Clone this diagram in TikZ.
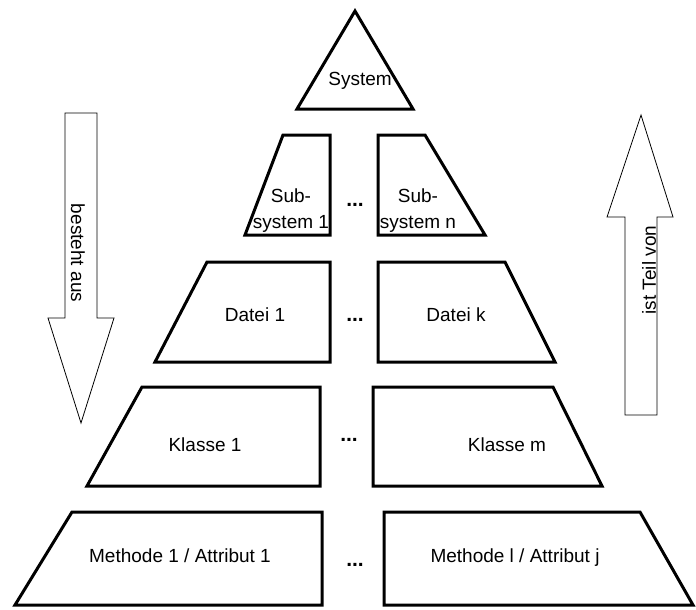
\documentclass[tikz,border=0pt]{standalone}
\usepackage{fontspec}
\setmainfont{Liberation Sans}
\begin{document}
\begin{tikzpicture}[x=1pt,y=-1pt,
  box/.style={draw, line width=3pt, line join=miter},
  lbl/.style={font=\fontsize{19}{22}\selectfont, inner sep=0pt, anchor=base},
  dotsl/.style={font=\fontsize{21}{22}\selectfont\bfseries, inner sep=0pt, anchor=base},
  bigarrow/.style={draw, line width=0.8pt, fill=white, line join=miter}]
\useasboundingbox (0,0) rectangle (696,610);

% arrows
\draw[bigarrow] (65,113) -- (97,113) -- (97,318) -- (114,318) -- (81,423) -- (48,318) -- (65,318) -- cycle;
\draw[bigarrow] (625,415) -- (657,415) -- (657,217) -- (673,217) -- (641,115) -- (607,217) -- (625,217) -- cycle;
\node[font=\fontsize{19}{22}\selectfont, inner sep=0pt, rotate=-90] (down) at (78,253) {besteht aus};
\node[font=\fontsize{19}{22}\selectfont, inner sep=0pt, rotate=90] (up) at (649,270) {ist Teil von};

% level 1
\draw[box] (297,109) -- (355,11) -- (413,109) -- cycle;
\node[lbl] (sys) at (360,85) {System};

% level 2
\draw[box] (245,235) -- (283,135) -- (330,135) -- (330,235) -- cycle;
\draw[box] (378,135) -- (425,135) -- (485,235) -- (378,235) -- cycle;
\node[lbl] (sub1a) at (291,202) {Sub-};
\node[lbl] (sub1b) at (291,228) {system 1};
\node[lbl] (subna) at (418,202) {Sub-};
\node[lbl] (subnb) at (418,228) {system n};
\node[dotsl] (d2) at (355,206) {...};

% level 3
\draw[box] (155,362) -- (207,262) -- (330,262) -- (330,362) -- cycle;
\draw[box] (378,262) -- (505,262) -- (555,362) -- (378,362) -- cycle;
\node[lbl] (dat1) at (255,321) {Datei 1};
\node[lbl] (datk) at (456,321) {Datei k};
\node[dotsl] (d3) at (355,321) {...};

% level 4
\draw[box] (87,486) -- (142,387) -- (320,387) -- (320,486) -- cycle;
\draw[box] (373,387) -- (553,387) -- (602,486) -- (373,486) -- cycle;
\node[lbl] (kl1) at (205,451) {Klasse 1};
\node[lbl] (klm) at (507,451) {Klasse m};
\node[dotsl] (d4) at (349,441) {...};

% level 5
\draw[box] (15,605) -- (72,512) -- (322,512) -- (322,605) -- cycle;
\draw[box] (384,512) -- (640,512) -- (693,605) -- (384,605) -- cycle;
\node[lbl] (m1) at (180,562) {Methode 1 / Attribut 1};
\node[lbl] (ml) at (515,562) {Methode l / Attribut j};
\node[dotsl] (d5) at (355,566) {...};
\end{tikzpicture}
\end{document}
